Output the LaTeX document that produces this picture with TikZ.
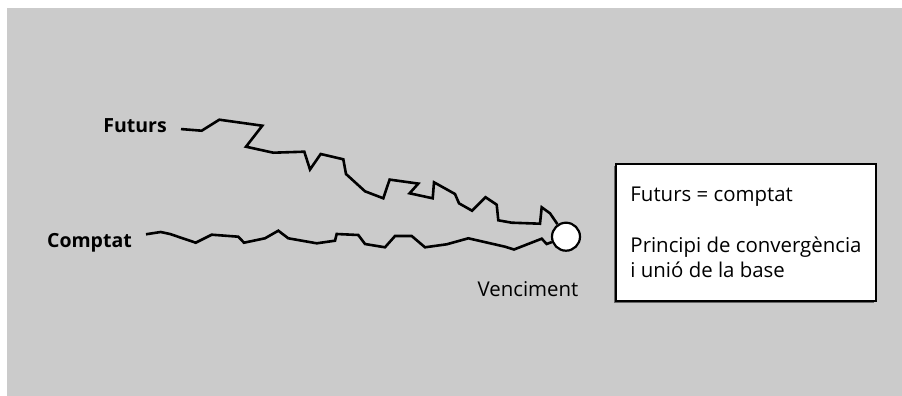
\documentclass[tikz,border=0pt]{standalone}
\usepackage{fontspec}
\setmainfont{Open Sans}
\usetikzlibrary{positioning, shadows}
\definecolor{bggray}{RGB}{203,203,203}
\tikzstyle{lbl} = [font=\fontsize{19.5}{23}\selectfont\bfseries, inner xsep=14pt, inner ysep=2pt]
\tikzstyle{price} = [line width=2.6pt, line join=miter, draw=black]
\tikzstyle{maturity} = [circle, draw=black, line width=2.2pt, fill=white, minimum size=28pt, inner sep=0pt]
\tikzstyle{infobox} = [rectangle, draw=black, line width=1.3pt, fill=white, minimum width=260pt, minimum height=137pt, align=left, font=\fontsize{20.4}{25}\selectfont, drop shadow={shadow xshift=-2.5pt, shadow yshift=-2.5pt, fill=black!60, opacity=1}]

\begin{document}
\begin{tikzpicture}[x=1pt, y=-1pt]
\useasboundingbox (0,0) rectangle (902,396);
\fill[bggray] (7,8) rectangle (902,396);

\node (futurs) [lbl, anchor=base east] at (181,132.3) {Futurs};
\node (comptat) [lbl, anchor=base east] at (146,247.7) {Comptat};
\node (venc) [maturity] at (566,236.7) {};
\node (vlabel) [font=\fontsize{20.4}{24}\selectfont, anchor=base] at (528,296) {Venciment};
\node (info) [infobox] at (746,232.4) {Futurs = comptat\\[26pt]Principi de convergència\\i unió de la base};

% futures price path
\draw [price] (futurs) -- (201.7,130.7) -- (219.3,119.7) -- (262.3,125.7) -- (246,146.7)
  -- (273.3,152.7) -- (304.3,151.7) -- (310,169.5) -- (320.7,154) -- (343.3,159.3)
  -- (346,174) -- (365,191.3) -- (383.3,198.3) -- (389.6,179.6) -- (418.3,183.6)
  -- (409.6,193.3) -- (432.7,198.3) -- (434,182.3) -- (455,194) -- (459,203.3)
  -- (472,210.7) -- (485.5,197.2) -- (496.7,204.7) -- (498.3,220.3) -- (511.7,222.7)
  -- (540,223.7) -- (541.7,207.3) -- (550,213.3) -- (venc);
% spot price path
\draw [price] (comptat) -- (160.7,232) -- (170,234) -- (195.7,242.7) -- (211.7,234.7)
  -- (238.3,236.7) -- (244,242.7) -- (265,238.3) -- (278.3,230.7) -- (288.3,238.3)
  -- (316.7,243.3) -- (335,240.7) -- (336.7,234) -- (358.3,235) -- (365,244)
  -- (385,247.3) -- (395,236) -- (411.7,236) -- (425,247.3) -- (446.7,244.3)
  -- (468.3,238.3) -- (505,246.7) -- (514,249.5) -- (541.7,238.7) -- (546.7,244) -- (venc);
\end{tikzpicture}
\end{document}
